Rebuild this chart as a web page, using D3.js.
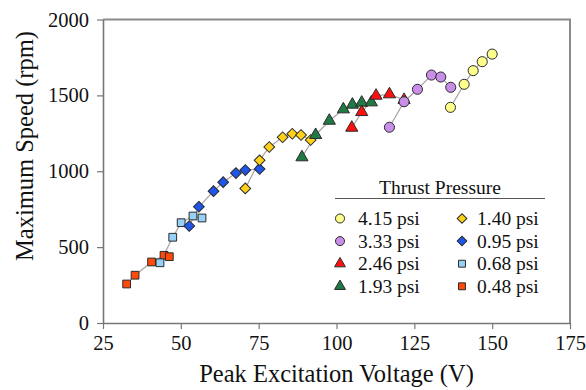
<!DOCTYPE html>
<html lang="en">

<head>
	<meta charset="UTF-8">
	<title>Maximum Speed vs Peak Excitation Voltage</title>
	<script src="https://cdn.jsdelivr.net/npm/d3@7"></script>
	<style>
		body { margin: 0; background: #fff; }
		text { font-family: 'Liberation Serif', 'Times New Roman', serif; fill: #111; }
	</style>
</head>

<body>
	<svg id="viz"></svg>

	<script>
		// Data ---
		const pressures = ['4.15 psi', '3.33 psi', '2.46 psi', '1.93 psi', '1.40 psi', '0.95 psi', '0.68 psi', '0.48 psi'];
		const p415 = [[136.6, 1421], [141, 1573], [143.9, 1663], [146.8, 1722], [150, 1772]];
		const p333 = [[117, 1290], [121.7, 1458], [126, 1540], [130.5, 1634], [133.5, 1621], [136.7, 1553]];
		const p246 = [[104.9, 1287], [108.1, 1390], [112.7, 1498], [117, 1507], [121.7, 1470]];
		const p193 = [[88.9, 1092], [93.3, 1239], [97.7, 1333], [102.2, 1408], [105.1, 1439], [108.1, 1452], [111.2, 1454]];
		const p140 = [[70.7, 887], [75.3, 1072], [78.4, 1160], [82.7, 1224], [85.8, 1247], [88.6, 1239], [91.7, 1206]];
		const p095 = [[52.7, 639], [55.8, 766], [60.5, 869], [63.6, 928], [67.7, 988], [70.7, 1008], [75.3, 1015]];
		const p068 = [[43.3, 397], [47.4, 565], [50.1, 661], [53.9, 705], [56.8, 692]];
		const p048 = [[32.6, 257], [35.3, 315], [40.6, 402], [44.6, 446], [46.3, 437]];
		const seriesValues = [p415, p333, p246, p193, p140, p095, p068, p048];
		const xTicks = [25, 50, 75, 100, 125, 150, 175];
		const yTicks = [0, 500, 1000, 1500, 2000];

		// Styles ---
		const svgWidth = 586, svgHeight = 390;
		const margin = { left: 103, right: 16, top: 19.5, bottom: 67 };
		const serif = "'Liberation Serif', 'Times New Roman', serif";
		// diamonds are squares turned 45 degrees
		const markerStyles = [
			{ shape: d3.symbolCircle, size: 80, rot: 0, fill: '#ffff8c' },
			{ shape: d3.symbolCircle, size: 80, rot: 0, fill: '#c98ee8' },
			{ shape: d3.symbolTriangle, size: 64, rot: 0, fill: '#ff1010' },
			{ shape: d3.symbolTriangle, size: 64, rot: 0, fill: '#217a45' },
			{ shape: d3.symbolSquare, size: 58, rot: 45, fill: '#ffd21a' },
			{ shape: d3.symbolSquare, size: 58, rot: 45, fill: '#1f55e8' },
			{ shape: d3.symbolSquare, size: 60, rot: 0, fill: '#96d2f7' },
			{ shape: d3.symbolSquare, size: 60, rot: 0, fill: '#ff4a0a' }
		];

		const svg = d3.select('#viz')
			.attr('width', svgWidth)
			.attr('height', svgHeight);

		const x = d3.scaleLinear().domain([25, 175]).range([margin.left, svgWidth - margin.right]);
		const y = d3.scaleLinear().domain([0, 2000]).range([svgHeight - margin.bottom, margin.top]);

		// Frame (top and right) ---
		svg.append('path')
			.attr('d', `M${x(25)},${y(2000)} H${x(175)} V${y(0)}`)
			.attr('fill', 'none')
			.attr('stroke', '#8a8a8a')
			.attr('stroke-width', 2);

		// Axes ---
		const xAxis = svg.append('g')
			.attr('transform', `translate(0,${y(0)})`)
			.call(d3.axisBottom(x).tickValues(xTicks).tickFormat(d3.format('d'))
				.tickSize(6).tickSizeOuter(0).tickPadding(6));
		const yAxis = svg.append('g')
			.attr('transform', `translate(${x(25)},0)`)
			.call(d3.axisLeft(y).tickValues(yTicks).tickFormat(d3.format('d'))
				.tickSize(6).tickSizeOuter(0).tickPadding(8));
		[xAxis, yAxis].forEach(a => {
			a.attr('font-family', serif).attr('font-size', 20.5);
			a.select('.domain').attr('stroke', '#777').attr('stroke-width', 1.6);
			a.selectAll('.tick line').attr('stroke', '#777').attr('stroke-width', 1.2);
			a.selectAll('.tick text').attr('fill', '#111');
		});

		svg.append('text')
			.attr('x', (x(25) + x(175)) / 2)
			.attr('y', 382)
			.attr('text-anchor', 'middle')
			.style('font-size', '24.5px')
			.text('Peak Excitation Voltage (V)');
		svg.append('text')
			.attr('transform', 'translate(33,146) rotate(-90)')
			.attr('text-anchor', 'middle')
			.style('font-size', '24.5px')
			.text('Maximum Speed (rpm)');

		// Connecting lines ---
		const line = d3.line().x(d => x(d[0])).y(d => y(d[1]));
		svg.append('g')
			.selectAll('path')
			.data(seriesValues)
			.join('path')
			.attr('d', line)
			.attr('fill', 'none')
			.attr('stroke', '#a9a2a4')
			.attr('stroke-width', 1.2);

		// Markers (low pressure first so the high-pressure ones sit on top) ---
		const groups = svg.append('g')
			.selectAll('g')
			.data(seriesValues.map((v, i) => ({ v, i })).reverse())
			.join('g');
		groups.selectAll('path')
			.data(d => d.v.map(p => ({ p, i: d.i })))
			.join('path')
			.attr('transform', d => `translate(${x(d.p[0])},${y(d.p[1])}) rotate(${markerStyles[d.i].rot})`)
			.attr('d', d => d3.symbol(markerStyles[d.i].shape, markerStyles[d.i].size)())
			.attr('fill', d => markerStyles[d.i].fill)
			.attr('stroke', '#2a2a2a')
			.attr('stroke-width', 1);

		// Legend ---
		const legend = svg.append('g');
		legend.append('text')
			.attr('x', 440)
			.attr('y', 194)
			.attr('text-anchor', 'middle')
			.style('font-size', '19.5px')
			.text('Thrust Pressure');
		legend.append('line')
			.attr('x1', 335).attr('x2', 545)
			.attr('y1', 198.5).attr('y2', 198.5)
			.attr('stroke', '#555')
			.attr('stroke-width', 1.2);
		const items = legend.selectAll('g.item')
			.data(pressures)
			.join('g')
			.attr('class', 'item')
			.attr('transform', (d, i) => `translate(${i < 4 ? 340 : 462},${218.5 + (i % 4) * 22.6})`);
		items.append('path')
			.attr('transform', (d, i) => `rotate(${markerStyles[i].rot})`)
			.attr('d', (d, i) => d3.symbol(markerStyles[i].shape, markerStyles[i].size * 0.8)())
			.attr('fill', (d, i) => markerStyles[i].fill)
			.attr('stroke', '#2a2a2a')
			.attr('stroke-width', 1);
		items.append('text')
			.attr('x', (d, i) => i < 4 ? 18 : 15)
			.attr('y', 6.5)
			.style('font-size', '19.5px')
			.text(d => d);
	</script>
</body>

</html>
